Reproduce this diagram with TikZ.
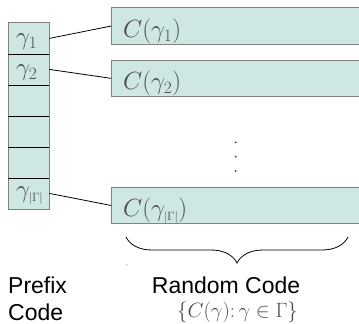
\documentclass[tikz,border=0pt]{standalone}
\usepackage{fontspec}
\newfontfamily\labfont{Liberation Sans}
\usetikzlibrary{decorations.pathreplacing}
\definecolor{cellfill}{RGB}{207,231,227}
\definecolor{edgegray}{RGB}{130,130,130}
\definecolor{inkgray}{RGB}{75,75,75}
\begin{document}
\begin{tikzpicture}[x=1pt,y=-1pt,
  cell/.style={fill=cellfill, minimum width=41pt, minimum height=31pt,
    inner sep=0pt, anchor=north west},
  cellsym/.style={text=inkgray, inner sep=0pt, font=\fontsize{23}{23}\selectfont},
  codebox/.style={fill=cellfill, draw=edgegray, line width=0.8pt,
    minimum width=270pt, minimum height=36.7pt, inner sep=0pt, anchor=north west},
  codesym/.style={text=inkgray, inner sep=0pt, anchor=west,
    font=\fontsize{24}{24}\selectfont},
  link/.style={line width=0.8pt, black},
  sep/.style={line width=0.8pt, black},
  caption/.style={inner sep=0pt, anchor=base west,
    font=\labfont\fontsize{23}{23}\selectfont}]
\useasboundingbox (0,0) rectangle (359,324);
\clip (0,0) rectangle (359,324);

% prefix code column
\foreach \i [evaluate=\i as \top using 22.7+31*(\i-1)] in {1,...,6}
  \node[cell] (c\i) at (8,\top) {};
\draw[edgegray, line width=0.8pt] (c1.north west) rectangle (c6.south east);
\foreach \i in {1,...,5}
  \draw[sep] (c\i.south west) -- (c\i.south east);
\node[cellsym] (g1) at ([xshift=-2pt,yshift=-3pt]c1.center) {$\gamma_1$};
\node[cellsym] (g2) at ([xshift=-2pt,yshift=-3pt]c2.center) {$\gamma_2$};
\node[cellsym] (g6) at ([xshift=1pt,yshift=-2pt]c6.center) {$\gamma_{\scriptscriptstyle|\Gamma|}$};

% random code words
\node[codebox] (b1) at (111,7.3) {};
\node[codebox] (b2) at (111,59.6) {};
\node[codebox] (b3) at (111,186.7) {};
\node[codesym] (w1) at ([xshift=12pt,yshift=-5pt]b1.west) {$C(\gamma_1)$};
\node[codesym] (w2) at ([xshift=12pt,yshift=-5pt]b2.west) {$C(\gamma_2)$};
\node[codesym] (w3) at ([xshift=12pt,yshift=-5pt]b3.west) {$C(\gamma_{\scriptscriptstyle|\Gamma|})$};

% links from prefixes to code words
\draw[link] (c1.east) -- (b1.west);
\draw[link] (c2.east) -- (b2.west);
\draw[link] (c6.east) -- (b3.west);

% vertical ellipsis
\foreach \y in {142.3,156.7,171}
  \fill[black!80] (235.7,\y) circle (1pt);

% brace under the code words
\coordinate (bl) at (126,237);
\coordinate (br) at (348,237);
\draw[line width=0.8pt, decorate, decoration={brace, mirror, amplitude=26pt}] (bl) -- (br);
\fill[black!35] (126.7,264.5) circle (0.7pt);

% captions
\node[caption] (p1) at (8,293) {Prefix};
\node[caption] (p2) at (8,320) {Code};
\node[caption] (r1) at (151.7,293) {Random Code};
\node[inner sep=0pt, anchor=base, text=inkgray, font=\fontsize{21}{21}\selectfont]
  (r2) at (237.5,317) {$\{C(\gamma)\colon\gamma\in\Gamma\}$};
\end{tikzpicture}
\end{document}
